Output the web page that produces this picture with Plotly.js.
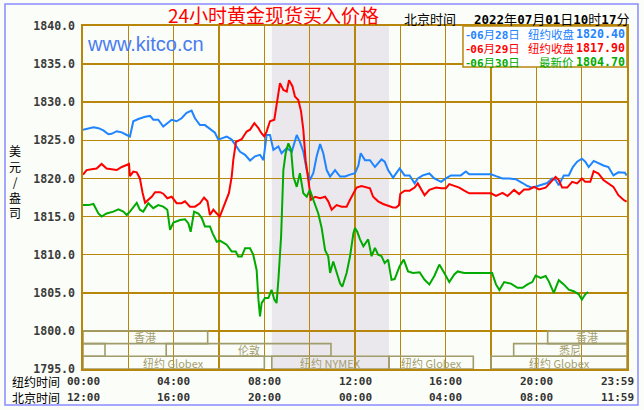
<!DOCTYPE html>
<html><head><meta charset="utf-8">
<script src="https://cdn.plot.ly/plotly-3.0.1.min.js"></script>
<style>html,body{margin:0;padding:0;background:#ffffff;}#chart{width:644px;height:410px;}</style>
</head><body><div id="chart"></div>
<script>
// ---- data (NY time in decimal hours, price in USD/oz) ----
const blueHours = [0,0.16,0.46,0.68,0.90,1.12,1.26,1.49,1.71,1.93,2.07,2.22,2.44,2.74,2.96,3.10,3.32,3.54,3.72,3.91,4.13,4.35,4.57,4.79,4.94,5.16,5.38,5.60,5.82,5.97,6.12,6.34,6.56,6.71,6.93,7.15,7.37,7.59,7.81,7.96,8.10,8.25,8.40,8.62,8.76,8.99,9.21,9.43,9.57,9.72,9.87,10.01,10.16,10.31,10.46,10.60,10.75,10.90,11.12,11.34,11.56,11.78,12.0,12.15,12.25,12.44,12.66,12.88,13.17,13.31,13.46,13.68,13.97,14.19,14.41,14.63,14.77,14.99,15.28,15.50,15.80,16.01,16.23,16.45,16.67,16.89,17.04,17.5,18.0,18.22,18.51,18.80,19.09,19.39,19.61,19.82,20.04,20.26,20.48,20.70,20.85,20.99,21.21,21.43,21.61,21.80,22.01,22.16,22.31,22.53,22.74,22.96,23.18,23.40,23.62,23.91,23.98];
const blueValues = [1826.4,1826.5,1826.7,1826.6,1826.3,1825.8,1825.85,1826.2,1826.05,1825.7,1825.5,1827.5,1827.8,1828.1,1828.2,1827.7,1827.7,1826.8,1827.3,1827.7,1827.5,1827.9,1828.6,1828.9,1827.9,1827.0,1827.0,1826.5,1826.0,1825.1,1825.3,1825.5,1825.1,1824.4,1823.5,1823.1,1822.35,1822.9,1823.1,1822.4,1825.7,1825.7,1823.75,1824.2,1823.3,1824.0,1823.5,1825.7,1824.8,1823.5,1821.1,1819.8,1820.7,1822.9,1824.5,1823.3,1821.1,1820.25,1821.1,1820.25,1820.25,1820.5,1820.7,1821.7,1823.3,1822.4,1822.4,1821.5,1822.5,1822.2,1821.1,1820.1,1821.3,1820.4,1820.4,1819.35,1820.0,1820.4,1820.65,1820.0,1819.55,1820.0,1820.4,1820.4,1820.4,1820.9,1820.55,1820.55,1820.55,1820.3,1820.0,1820.0,1819.9,1819.4,1819.0,1818.8,1819.0,1819.2,1819.4,1820.0,1819.8,1819.1,1820.4,1820.4,1821.5,1822.2,1822.6,1822.2,1821.5,1822.3,1822.0,1821.7,1821.5,1820.4,1820.8,1820.75,1820.4];

const redHours = [0,0.16,0.38,0.60,0.82,1.04,1.26,1.49,1.71,1.93,2.03,2.07,2.22,2.37,2.51,2.63,2.74,2.88,3.03,3.18,3.40,3.54,3.72,3.91,4.13,4.35,4.50,4.72,4.94,5.16,5.34,5.49,5.60,5.75,5.90,6.03,6.12,6.26,6.44,6.56,6.63,6.75,7.00,7.22,7.37,7.56,7.74,7.88,8.00,8.10,8.25,8.44,8.54,8.69,8.84,8.99,9.09,9.24,9.35,9.50,9.62,9.72,9.82,9.94,10.06,10.24,10.46,10.68,10.82,10.97,11.19,11.41,11.63,11.78,12.0,12.07,12.29,12.51,12.66,12.80,13.02,13.24,13.46,13.68,13.82,13.94,14.0,14.19,14.41,14.63,14.77,14.92,15.07,15.28,15.58,15.80,16.01,16.16,16.38,16.60,16.82,17.04,18.0,18.22,18.51,18.73,19.02,19.24,19.46,19.68,19.90,20.12,20.41,20.63,20.85,20.99,21.14,21.36,21.58,21.80,22.01,22.16,22.38,22.53,22.74,22.96,23.18,23.40,23.62,23.84,23.98];
const redValues = [1820.5,1821.1,1821.2,1821.3,1821.9,1821.3,1821.2,1821.1,1821.5,1821.8,1821.9,1820.3,1820.9,1820.8,1820.0,1818.1,1816.8,1817.2,1817.6,1818.2,1818.2,1818.0,1817.4,1817.6,1816.75,1816.75,1817.0,1816.3,1816.3,1816.75,1817.5,1817.0,1815.2,1815.9,1815.4,1815.0,1815.65,1816.75,1818.1,1820.25,1822.4,1824.8,1825.15,1826.15,1826.4,1827.25,1826.6,1825.9,1825.5,1826.15,1827.5,1827.7,1829.9,1832.5,1831.6,1831.4,1832.9,1832.1,1830.75,1830.3,1828.8,1826.4,1822.4,1819.8,1817.2,1817.6,1817.4,1817.6,1817.0,1815.9,1816.5,1816.3,1816.3,1817.2,1818.3,1818.8,1819.0,1818.8,1818.7,1817.6,1817.0,1816.65,1816.4,1816.2,1816.2,1816.5,1818.0,1818.4,1818.4,1818.8,1819.35,1818.5,1817.8,1818.5,1818.8,1818.7,1818.7,1819.25,1819.0,1818.8,1818.4,1818.05,1818.05,1817.7,1818.1,1817.7,1818.5,1817.95,1818.55,1818.55,1818.9,1818.55,1818.8,1819.55,1820.2,1819.8,1818.8,1818.8,1819.55,1819.35,1820.0,1819.55,1819.55,1820.95,1820.65,1819.8,1819.35,1818.9,1817.8,1817.2,1816.95];

const greenHours = [0,0.24,0.46,0.68,0.82,1.04,1.34,1.56,1.78,1.93,2.07,2.22,2.37,2.51,2.66,2.88,3.10,3.32,3.54,3.72,3.84,3.99,4.28,4.50,4.65,4.75,4.90,5.09,5.24,5.38,5.60,5.72,5.90,6.04,6.34,6.56,6.74,6.85,7.0,7.15,7.37,7.51,7.66,7.74,7.81,7.88,8.03,8.18,8.32,8.44,8.54,8.62,8.74,8.84,8.94,9.06,9.18,9.28,9.43,9.57,9.72,9.87,10.01,10.16,10.38,10.53,10.68,10.82,10.90,11.04,11.19,11.34,11.44,11.63,11.78,11.93,12.0,12.1,12.22,12.37,12.58,12.73,12.88,13.02,13.17,13.31,13.46,13.61,13.75,13.97,14.15,14.34,14.56,14.85,15.07,15.28,15.50,15.72,15.94,16.16,16.38,16.53,16.82,17.04,18.05,18.22,18.37,18.58,18.88,19.17,19.39,19.61,19.82,19.97,20.19,20.41,20.55,20.77,20.99,21.21,21.43,21.65,21.87,22.01,22.16,22.28];
const greenValues = [1816.5,1816.5,1816.65,1815.4,1815.0,1815.4,1815.65,1815.95,1815.65,1815.2,1815.65,1816.3,1816.8,1815.9,1815.65,1816.75,1816.1,1816.5,1816.3,1815.9,1813.25,1814.2,1814.55,1814.65,1814.1,1813.0,1815.65,1815.4,1814.8,1813.7,1813.7,1812.8,1811.7,1811.85,1811.3,1810.4,1810.4,1809.75,1809.75,1810.85,1810.85,1810.0,1808.0,1804.1,1801.9,1803.65,1804.3,1804.3,1805.4,1804.1,1803.65,1806.7,1812.4,1821.1,1823.3,1824.6,1823.75,1820.25,1818.9,1820.7,1818.05,1817.6,1818.5,1817.2,1815.4,1813.5,1810.6,1809.75,1807.6,1809.1,1807.8,1806.25,1805.8,1807.6,1809.75,1812.8,1813.5,1813.0,1812.0,1811.1,1812.0,1809.8,1810.9,1810.0,1809.8,1808.9,1809.35,1806.7,1806.8,1808.5,1809.35,1807.8,1807.6,1807.7,1806.7,1806.1,1807.2,1808.7,1807.6,1806.4,1807.4,1807.8,1807.6,1807.6,1807.6,1806.1,1805.35,1806.4,1806.2,1805.65,1805.65,1806.1,1806.4,1807.25,1806.95,1807.2,1806.5,1805.0,1806.65,1806.1,1805.4,1805.2,1804.8,1804.1,1804.8,1805.1];

const seriesDates = ["06月28日","06月29日","06月30日"];
const seriesKinds = ["纽约收盘","纽约收盘","最新价"];
const seriesLast = ["1820.40","1817.90","1804.70"];

const tickHours = [0,4,8,12,16,20,23.983];
const nyTickLabels = ["00:00","04:00","08:00","12:00","16:00","20:00","23:59"];
const bjTickLabels = ["12:00","16:00","20:00","00:00","04:00","08:00","11:59"];

const sessStart = [0, 20.5, 0, 3.67, 19.0, 0, 8.33, 13.5, 18.0];
const sessEnd   = [5.5, 24, 0.97, 10.94, 24, 8.0, 13.5, 17.22, 24];
const sessRow   = [0, 0, 1, 1, 1, 2, 2, 2, 2];
const sessLabel = ["香港","香港","","伦敦","悉尼","纽约 Globex","纽约 NYMEX","纽约 Globex","纽约 Globex"];
const nymexSpan = [8.33, 13.5];

// ---- styling ----
const colors = ["#1e84ff","#ff0000","#00aa00"];
const gold = "#b8860b";
const olive = "#a19c6c";
const bg = "#fbfdf8";
const mono = "DejaVu Sans Mono";
const cjk = "Noto Sans CJK SC";
const yMin = 1795, yMax = 1840;
const rowH = 5/3;

function digitsMono(s, size){
  return s.replace(/([0-9.:]+)/g, '<span style="font-family:\'' + mono + '\';font-weight:bold;font-size:' + size + 'px">$1</span>');
}

const traces = [
  {x: blueHours, y: blueValues},
  {x: redHours, y: redValues},
  {x: greenHours, y: greenValues}
].map((t,i)=>({x:t.x, y:t.y, type:'scatter', mode:'lines', line:{color:colors[i], width:2}, hoverinfo:'skip', showlegend:false}));

const shapes = [];
shapes.push({type:'rect', xref:'x', yref:'paper', x0:nymexSpan[0], x1:nymexSpan[1], y0:0, y1:1, fillcolor:'#ebe8ed', line:{width:0}, layer:'below'});
const annotations = [];
for (let i=0;i<sessStart.length;i++){
  const top = 1800 - sessRow[i]*rowH;
  shapes.push({type:'rect', xref:'x', yref:'y', x0:sessStart[i], x1:sessEnd[i], y0:top-rowH, y1:top, line:{color:olive, width:1.6}, fillcolor:'rgba(0,0,0,0)', layer:'above'});
  if (sessLabel[i]) {
    annotations.push({xref:'x', yref:'y', x:(sessStart[i]+sessEnd[i])/2, y:top-rowH/2, text:sessLabel[i], showarrow:false, xanchor:'center', yanchor:'middle', borderpad:0, font:{family:cjk, size:11, color:'#a39e70'}});
  }
}
shapes.push({type:'rect', xref:'paper', yref:'paper', x0:0.6985, x1:1.0, y0:0.8805, y1:1.0, fillcolor:'#ffffff', line:{color:gold, width:1.5}, layer:'above'});
shapes.push({type:'rect', xref:'paper', yref:'paper', x0:-0.1434, x1:1.0202, y0:-0.105, y1:1.0641, line:{color:'#8a8aff', width:1.5}, fillcolor:'rgba(0,0,0,0)', layer:'above'});

const legendY = [0.9778, 0.9359, 0.8956];
for (let i=0;i<3;i++){
  annotations.push({xref:'paper', yref:'paper', x:0.7025, y:legendY[i], xanchor:'left', yanchor:'middle', showarrow:false, borderpad:0,
    text:'<b>-</b>' + digitsMono(seriesDates[i], 11), font:{family:cjk, size:11.5, color:colors[i]}});
  annotations.push({xref:'paper', yref:'paper', x:0.9044, y:legendY[i], xanchor:'right', yanchor:'middle', showarrow:false, borderpad:0,
    text:seriesKinds[i], font:{family:cjk, size:11.5, color:colors[i]}});
  annotations.push({xref:'paper', yref:'paper', x:1.0, xshift:-1, y:legendY[i], xanchor:'right', yanchor:'middle', showarrow:false, borderpad:0,
    text:seriesLast[i], font:{family:mono, size:11.6, weight:'bold', color:colors[i]}});
}
for (let i=0;i<tickHours.length;i++){
  const last = i===tickHours.length-1;
  annotations.push({xref:'x', yref:'paper', x:tickHours[i], y:-0.035, xanchor: last?'right':'center', xshift: last?9:0, yanchor:'middle', showarrow:false,
    text:nyTickLabels[i], font:{family:mono, size:11, weight:'bold', color:'#333333'}});
  annotations.push({xref:'x', yref:'paper', x:tickHours[i], y:-0.0845, xanchor: last?'right':'center', xshift: last?9:0, yanchor:'middle', showarrow:false,
    text:bjTickLabels[i], font:{family:mono, size:11, weight:'bold', color:'#333333'}});
}
annotations.push({xref:'paper', yref:'paper', x:-0.1342, y:-0.035, xanchor:'left', yanchor:'middle', showarrow:false, text:'纽约时间', font:{family:cjk, size:12, color:'#000000'}});
annotations.push({xref:'paper', yref:'paper', x:-0.1342, y:-0.0845, xanchor:'left', yanchor:'middle', showarrow:false, text:'北京时间', font:{family:cjk, size:12, color:'#000000'}});
annotations.push({xref:'paper', yref:'paper', x:-0.1259, y:0.548, xanchor:'center', yanchor:'middle', showarrow:false, text:'美<br>元<br>/<br>盎<br>司', font:{family:cjk, size:12, color:'#000000'}});
annotations.push({xref:'paper', yref:'paper', x:0.6379, y:1.0233, xanchor:'center', yanchor:'middle', showarrow:false, text:'北京时间', font:{family:cjk, size:13, color:'#000000'}});
annotations.push({xref:'paper', yref:'paper', x:0.7151, y:1.0233, xanchor:'left', yanchor:'middle', showarrow:false, text:digitsMono('2022年07月01日10时17分', 12.5), font:{family:cjk, size:13, color:'#000000'}});
annotations.push({xref:'paper', yref:'paper', x:0.0037, y:0.9475, xanchor:'left', yanchor:'middle', showarrow:false, text:'www.kitco.cn', font:{family:'Liberation Sans', size:20, color:'#4a7cf0'}});

const layout = {
  width:644, height:410,
  margin:{l:83, r:17, t:26, b:41, pad:0},
  paper_bgcolor:bg, plot_bgcolor:bg,
  title:{text:'24小时黄金现货买入价格', font:{family:cjk, size:19, color:'#ff0000'}, xref:'paper', x:0.3502, xanchor:'center', yref:'container', y:0.96, yanchor:'middle'},
  xaxis:{range:[0,24], tick0:0, dtick:2, showgrid:true, gridcolor:gold, gridwidth:1.6, showticklabels:false, ticks:'', zeroline:false,
         showline:true, mirror:true, linecolor:gold, linewidth:1.6, fixedrange:true},
  yaxis:{range:[yMin,yMax], tick0:1795, dtick:5, tickformat:'.1f', showgrid:true, gridcolor:gold, gridwidth:1.6, zeroline:false,
         ticks:'', ticklabelstandoff:4, tickfont:{family:mono, size:11.6, weight:'bold', color:'#3a3a3a'},
         showline:true, mirror:true, linecolor:gold, linewidth:1.6, fixedrange:true},
  shapes:shapes, annotations:annotations, showlegend:false
};
Plotly.newPlot('chart', traces, layout, {staticPlot:true, displayModeBar:false});
</script></body></html>
